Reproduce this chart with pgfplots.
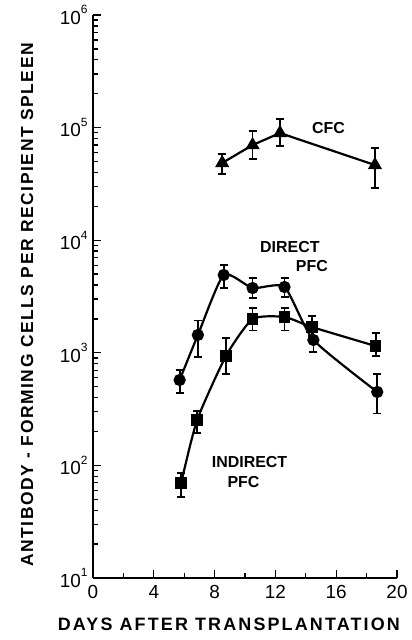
\documentclass[border=0pt]{standalone}
\usepackage{pgfplots}
\pgfplotsset{compat=1.18}
\usepackage{fontspec}
\setmainfont{Liberation Sans}
\newcommand{\tenpow}[1]{10\raisebox{0.55em}{\fontsize{12}{12}\selectfont #1}}
\begin{document}
\begin{tikzpicture}
\path[use as bounding box] (0,0) rectangle (412bp,640bp);
\begin{axis}[
  at={(93bp,62bp)}, anchor=south west,
  scale only axis, width=304bp, height=563bp,
  xmin=0, xmax=20, ymin=10, ymax=1e6, ymode=log,
  axis x line*=bottom, axis y line*=left,
  axis line style={line width=1.8pt, -},
  xtick={0,4,8,12,16,20},
  xticklabels={0,4,8,12,16,20},
  minor xtick={2,6,10,14,18},
  ytick={10,100,1000,10000,100000,1000000},
  minor ytick={20,30,40,50,60,70,80,90,200,300,400,500,600,700,800,900,2000,3000,4000,5000,6000,7000,8000,9000,20000,30000,40000,50000,60000,70000,80000,90000,200000,300000,400000,500000,600000,700000,800000,900000},
  yticklabels={\tenpow{1},\tenpow{2},\tenpow{3},\tenpow{4},\tenpow{5},\tenpow{6}},
  tick align=inside,
  major tick length=8bp, minor tick length=5bp,
  tick style={line width=1.3pt, black},
  ticklabel style={font=\fontsize{19}{19}\selectfont},
  xticklabel style={yshift=-4bp},
  yticklabel style={xshift=-2bp},
  xlabel={\bfseries DAYS AFTER TRANSPLANTATION},
  ylabel={\bfseries ANTIBODY - FORMING CELLS PER RECIPIENT SPLEEN},
  xlabel style={font=\fontsize{18}{18}\selectfont\addfontfeature{LetterSpace=12},
    at={(axis description cs:0.447,-0.083)}, anchor=center},
  ylabel style={font=\fontsize{17.5}{18}\selectfont\addfontfeature{LetterSpace=9},
    at={(axis description cs:-0.217,0.485)}, anchor=center},
  clip=false,
  every axis plot/.append style={line width=2.2pt, black},
  error bars/error bar style={line width=1.8pt, black},
  error bars/error mark options={rotate=90, mark size=4bp, line width=1.8pt},
]
% CFC
\addplot[mark=triangle*, mark size=6bp,
  error bars/.cd, y dir=both, y explicit]
coordinates {
 (8.5,48500) += (0,9500) -= (0,9500)
 (10.5,70000) += (0,24000) -= (0,17000)
 (12.3,89500) += (0,29000) -= (0,21000)
 (18.55,46500) += (0,19500) -= (0,17500)
};
% Direct PFC
\addplot[mark=*, mark size=5bp, smooth, tension=0.35,
  error bars/.cd, y dir=both, y explicit]
coordinates {
 (5.7,573) += (0,130) -= (0,130)
 (6.9,1440) += (0,500) -= (0,520)
 (8.6,4910) += (0,1100) -= (0,1150)
 (10.5,3760) += (0,820) -= (0,700)
 (12.6,3840) += (0,740) -= (0,700)
 (14.5,1300) += (0,360) -= (0,285)
 (18.7,449) += (0,200) -= (0,160)
};
% Indirect PFC
\addplot[mark=square*, mark size=4.6bp, smooth, tension=0.35,
  error bars/.cd, y dir=both, y explicit]
coordinates {
 (5.8,70) += (0,16) -= (0,18)
 (6.85,253) += (0,50) -= (0,60)
 (8.75,938) += (0,420) -= (0,290)
 (10.5,1995) += (0,490) -= (0,420)
 (12.6,2080) += (0,400) -= (0,500)
 (14.4,1694) += (0,430) -= (0,280)
 (18.6,1148) += (0,350) -= (0,205)
};
\tikzset{ann/.style={font=\fontsize{16}{16}\selectfont\bfseries}}
\node[ann] at (axis cs:15.5,1.0e5) {CFC};
\node[ann] at (axis cs:12.95,8700) {DIRECT};
\node[ann] at (axis cs:14.4,5900) {PFC};
\node[ann] at (axis cs:10.3,107) {INDIRECT};
\node[ann] at (axis cs:9.9,71) {PFC};
\end{axis}
\end{tikzpicture}
\end{document}
